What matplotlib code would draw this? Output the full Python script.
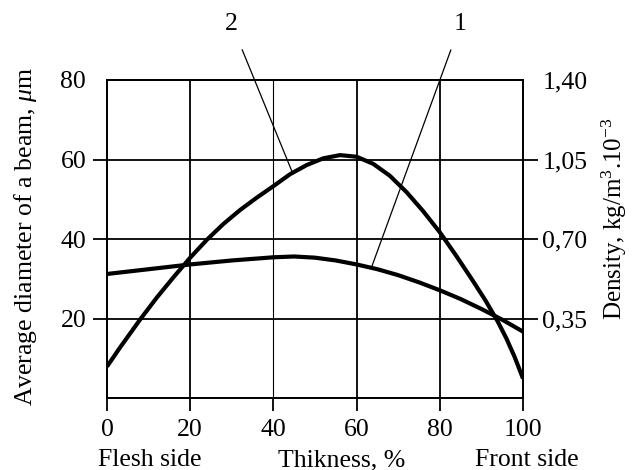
import matplotlib
matplotlib.use("Agg")
import matplotlib.pyplot as plt
from matplotlib.ticker import FixedLocator

plt.rcParams['font.family'] = ['Liberation Serif', 'DejaVu Serif']
plt.rcParams['mathtext.fontset'] = 'custom'
plt.rcParams['mathtext.rm'] = 'Liberation Serif'
plt.rcParams['mathtext.it'] = 'Liberation Serif:italic'

# Curve 1 (flatter)
x1 = [0, 10, 20, 30, 40, 45, 50, 55, 60, 65, 70, 75, 80, 85, 90, 95, 100]
y1 = [31.2, 32.4, 33.6, 34.6, 35.4, 35.6, 35.3, 34.6, 33.6, 32.4, 30.9, 29.1,
      27.1, 24.9, 22.4, 19.7, 16.7]

# Curve 2 (peaked)
x2 = [0, 3, 8, 12, 16, 20, 24, 28, 32, 36, 40, 44, 48, 52, 56, 60, 64, 68, 72,
      76, 80, 84, 88, 91, 94, 96, 98, 100]
y2 = [7.9, 12.5, 19.8, 25.3, 30.4, 35.3, 39.8, 43.8, 47.3, 50.4, 53.3, 56.3,
      58.6, 60.3, 61.1, 60.7, 58.9, 55.9, 51.8, 47.0, 41.7, 35.7, 29.4, 24.5,
      19.1, 15.0, 10.3, 4.9]

x_ticks = [0, 20, 40, 60, 80, 100]
y_ticks = [20, 40, 60]
y_top = 80
right_labels = ['0,35', '0,70', '1,05']
right_top = '1,40'

fs = 18.5

fig = plt.figure(figsize=(6.33, 4.70), dpi=100)
ax = fig.add_axes([107/633, 1-398/470, (523-107)/633, (398-80)/470])
ax.set_xlim(0, 100)
ax.set_ylim(0, 80)

# grid lines
for xv in [20, 40, 60, 80]:
    ax.axvline(xv, color='black', lw=1.3 if xv != 40 else 0.8, zorder=1)
for yv in y_ticks:
    ax.axhline(yv, color='black', lw=1.3, zorder=1)

ax.plot(x1, y1, color='black', lw=3.0, solid_capstyle='butt', solid_joinstyle='round', zorder=3)
ax.plot(x2, y2, color='black', lw=3.0, solid_capstyle='butt', solid_joinstyle='round', zorder=3)

for s in ax.spines.values():
    s.set_linewidth(1.3)

ax.xaxis.set_major_locator(FixedLocator(x_ticks))
ax.set_xticklabels([str(v) for v in x_ticks], fontsize=fs)
ax.tick_params(axis='x', direction='out', length=9, width=1.3, pad=6)

ax.yaxis.set_major_locator(FixedLocator(y_ticks))
ax.set_yticklabels([str(v) for v in y_ticks], fontsize=fs)
ax.yaxis.set_minor_locator(FixedLocator([y_top]))
ax.set_yticklabels([str(y_top)], minor=True, fontsize=fs)
ax.tick_params(axis='y', which='major', direction='out', length=10, width=1.3, pad=5)
ax.tick_params(axis='y', which='minor', length=0, pad=15)

ax2 = ax.twinx()
ax2.set_ylim(0, 80)
ax2.yaxis.set_major_locator(FixedLocator(y_ticks))
ax2.set_yticklabels(right_labels, fontsize=fs)
ax2.yaxis.set_minor_locator(FixedLocator([y_top]))
ax2.set_yticklabels([right_top], minor=True, fontsize=fs)
ax2.tick_params(axis='y', which='major', direction='out', length=11, width=1.3, pad=3)
ax2.tick_params(axis='y', which='minor', length=0, pad=14)
for s in ax2.spines.values():
    s.set_linewidth(1.3)

# axis titles
fig.text(26/633, 1-236/470, r'Average diameter of a beam, $\mathit{\mu}$m',
         fontsize=fs, rotation=90, ha='center', va='center')
fig.text(614/633, 1-219/470, r'Density, kg/m$^{3}$.10$^{-3}$',
         fontsize=18, rotation=90, ha='center', va='center')

# bottom captions
fig.text(150/633, 1-460/470, 'Flesh side', fontsize=fs, ha='center', va='center')
fig.text(342/633, 1-460/470, 'Thikness, %', fontsize=fs, ha='center', va='center')
fig.text(527/633, 1-460/470, 'Front side', fontsize=fs, ha='center', va='center')

# curve labels with leader lines
ax.annotate('2', xy=(44.5, 56.9), xytext=(30.0, 94.0), fontsize=fs,
            ha='center', va='center', annotation_clip=False,
            arrowprops=dict(arrowstyle='-', color='black', lw=0.9,
                            shrinkA=9, shrinkB=0))
ax.annotate('1', xy=(63.7, 33.2), xytext=(84.9, 94.0), fontsize=fs,
            ha='center', va='center', annotation_clip=False,
            arrowprops=dict(arrowstyle='-', color='black', lw=0.9,
                            shrinkA=9, shrinkB=0))

fig.savefig('out.png', dpi=100)
